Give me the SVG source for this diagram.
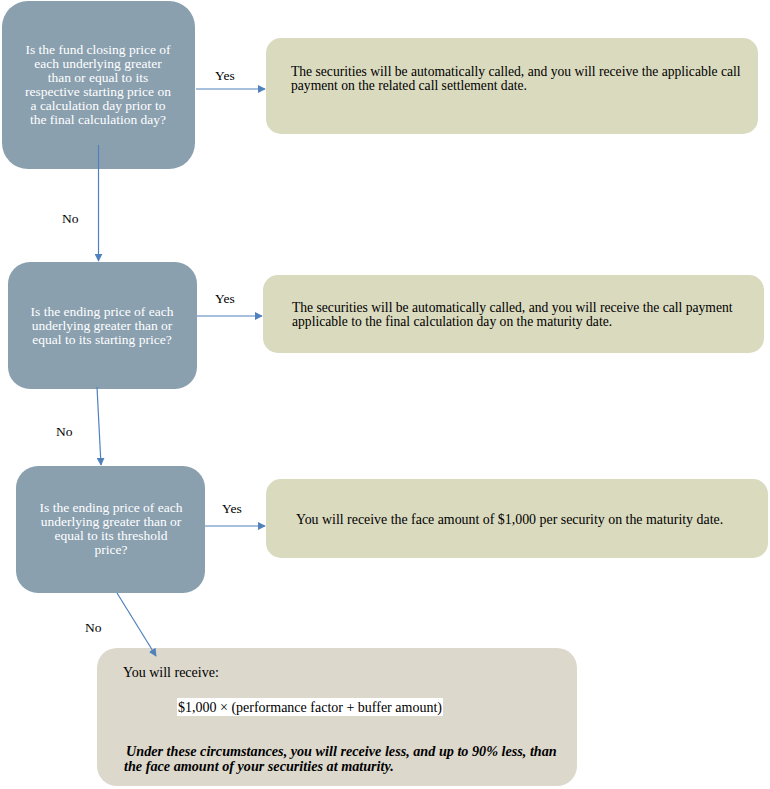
<svg xmlns="http://www.w3.org/2000/svg" width="770" height="789" viewBox="0 0 770 789">
<defs>
<style>
.q{fill:#8aa0af;}
.a{fill:#dadabf;}
.f{fill:#dcd8cc;}
.qt{font-family:"Liberation Serif","Times New Roman",serif;font-size:13.5px;fill:#ffffff;text-anchor:middle;}
.at{font-family:"Liberation Serif","Times New Roman",serif;font-size:13.6px;fill:#000000;}
.lb{font-family:"Liberation Serif","Times New Roman",serif;font-size:13.5px;fill:#000000;}
.it{font-family:"Liberation Serif","Times New Roman",serif;font-size:14.2px;font-style:italic;font-weight:bold;fill:#000000;}
.c{stroke:#4f81bd;stroke-width:1.2;fill:none;}
</style>
<marker id="ah" viewBox="0 0 10 10" refX="9" refY="5" markerWidth="8" markerHeight="8" markerUnits="userSpaceOnUse" orient="auto">
<path d="M0,0 L10,5 L0,10 z" fill="#4f81bd"/>
</marker>
</defs>
<rect width="770" height="789" fill="#ffffff"/>
<g id="q1">
<rect class="q" x="2" y="1" width="193" height="168" rx="26"/>
<text class="qt" x="98" y="54">Is the fund closing price of</text>
<text class="qt" x="98" y="68">each underlying greater</text>
<text class="qt" x="98" y="82">than or equal to its</text>
<text class="qt" x="98" y="96">respective starting price on</text>
<text class="qt" x="98" y="110">a calculation day prior to</text>
<text class="qt" x="98" y="124">the final calculation day?</text>
</g>
<g id="a1">
<rect class="a" x="266" y="38" width="492" height="96" rx="15"/>
<text class="at" x="291" y="76">The securities will be automatically called, and you will receive the applicable call</text>
<text class="at" x="291" y="90">payment on the related call settlement date.</text>
</g>
<g id="q2">
<rect class="q" x="8" y="262" width="189" height="127" rx="22"/>
<text class="qt" x="102" y="316">Is the ending price of each</text>
<text class="qt" x="102" y="330">underlying greater than or</text>
<text class="qt" x="102" y="344">equal to its starting price?</text>
</g>
<g id="a2">
<rect class="a" x="263" y="275" width="501" height="78" rx="15"/>
<text class="at" x="292" y="312">The securities will be automatically called, and you will receive the call payment</text>
<text class="at" x="292" y="326">applicable to the final calculation day on the maturity date.</text>
</g>
<g id="q3">
<rect class="q" x="16" y="466" width="189" height="127" rx="22"/>
<text class="qt" x="111" y="512">Is the ending price of each</text>
<text class="qt" x="111" y="526">underlying greater than or</text>
<text class="qt" x="111" y="540">equal to its threshold</text>
<text class="qt" x="111" y="554">price?</text>
</g>
<g id="a3">
<rect class="a" x="266" y="479" width="502" height="79" rx="15"/>
<text class="at" x="296" y="524" style="font-size:13.9px">You will receive the face amount of $1,000 per security on the maturity date.</text>
</g>
<g id="a4">
<rect class="f" x="97" y="648" width="480" height="138" rx="20"/>
<text class="at" x="123" y="677" style="font-size:14px">You will receive:</text>
<rect x="177" y="698" width="266" height="18" fill="#ffffff"/>
<text class="at" x="178" y="712" style="font-size:14px">$1,000 × (performance factor + buffer amount)</text>
<text class="it" x="126" y="756">Under these circumstances, you will receive less, and up to 90% less, than</text>
<text class="it" x="124" y="771">the face amount of your securities at maturity.</text>
</g>
<g id="connectors">
<path class="c" d="M196,89 L265,89" marker-end="url(#ah)"/>
<path class="c" d="M98.5,145 L98.5,261" marker-end="url(#ah)"/>
<path class="c" d="M197,316 L262,316" marker-end="url(#ah)"/>
<path class="c" d="M97,387 L101,465" marker-end="url(#ah)"/>
<path class="c" d="M205,526 L265,526" marker-end="url(#ah)"/>
<path class="c" d="M117,593 L156,656" marker-end="url(#ah)"/>
<text class="lb" x="215" y="80">Yes</text>
<text class="lb" x="62" y="223">No</text>
<text class="lb" x="215" y="303">Yes</text>
<text class="lb" x="56" y="436">No</text>
<text class="lb" x="222" y="513">Yes</text>
<text class="lb" x="85" y="632">No</text>
</g>
</svg>
